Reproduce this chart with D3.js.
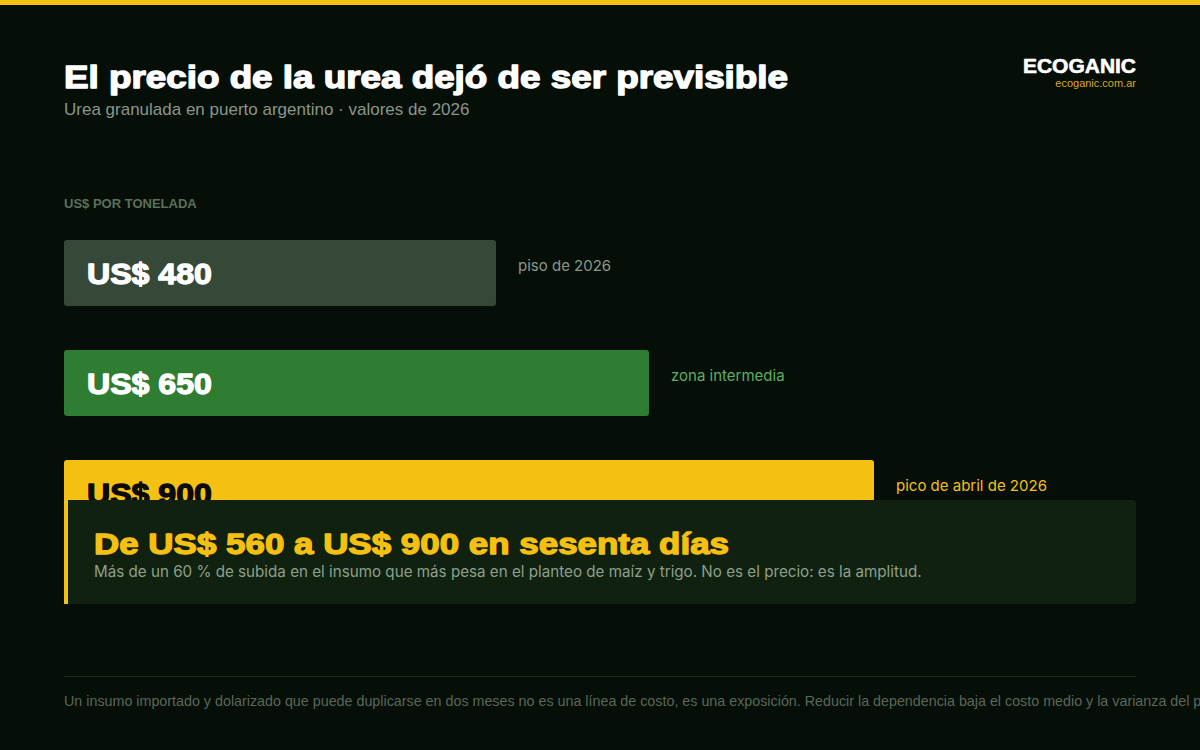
<!DOCTYPE html>
<html lang="es">
<head>
  <meta charset="UTF-8">
  <title>El precio de la urea dejó de ser previsible</title>
  <script src="https://d3js.org/d3.v7.min.js"></script>
  <style>
    body {
      margin: 0;
      padding: 0;
      background: #050f07;
      overflow: hidden;
    }
    .heavy {
      font-family: 'Liberation Sans', Arial, sans-serif;
      font-weight: 700;
      paint-order: stroke;
      stroke-linejoin: round;
    }
    .plain { font-family: 'Liberation Sans', Arial, sans-serif; }
    .inter { font-family: Inter, 'Noto Sans', sans-serif; }
  </style>
</head>
<body>
  <div id="chart"></div>

  <script>
    // valores en US$ por tonelada
    const categories = ['piso', 'intermedia', 'pico'];
    const values = [480, 650, 900];
    const valueLabels = ['US$ 480', 'US$ 650', 'US$ 900'];
    const sideLabels = ['piso de 2026', 'zona intermedia', 'pico de abril de 2026'];
    const barColors = ['#364837', '#2e7d32', '#f4c012'];
    const valueColors = ['#ffffff', '#ffffff', '#0a0a0a'];
    const sideColors = ['#8c978c', '#5fae62', '#f4c012'];

    const width = 1200;
    const height = 750;
    const left = 64;
    const right = 1136;

    const svg = d3.select('#chart')
      .append('svg')
      .attr('width', width)
      .attr('height', height);

    svg.append('rect')
      .attr('width', width).attr('height', height)
      .attr('fill', '#050f07');

    // franja superior
    svg.append('rect')
      .attr('width', width).attr('height', 5)
      .attr('fill', '#f4c012');

    // encabezado (la fuente negra se simula estirando la negrita)
    svg.append('text')
      .attr('class', 'heavy')
      .attr('x', left).attr('y', 88)
      .attr('font-size', 32)
      .attr('textLength', 724)
      .attr('lengthAdjust', 'spacingAndGlyphs')
      .attr('fill', '#ffffff')
      .attr('stroke', '#ffffff').attr('stroke-width', 1.4)
      .text('El precio de la urea dejó de ser previsible');

    svg.append('text')
      .attr('class', 'plain')
      .attr('x', left).attr('y', 115)
      .attr('font-size', 17)
      .attr('fill', '#8a968a')
      .text('Urea granulada en puerto argentino · valores de 2026');

    svg.append('text')
      .attr('class', 'heavy')
      .attr('x', right).attr('y', 73)
      .attr('text-anchor', 'end')
      .attr('font-size', 20)
      .attr('textLength', 113)
      .attr('lengthAdjust', 'spacingAndGlyphs')
      .attr('fill', '#ffffff')
      .attr('stroke', '#ffffff').attr('stroke-width', 0.6)
      .text('ECOGANIC');

    svg.append('text')
      .attr('class', 'plain')
      .attr('x', right).attr('y', 87)
      .attr('text-anchor', 'end')
      .attr('font-size', 11)
      .attr('fill', '#d9a919')
      .text('ecoganic.com.ar');

    svg.append('text')
      .attr('class', 'plain')
      .attr('x', left).attr('y', 208)
      .attr('font-size', 13)
      .attr('font-weight', 700)
      .attr('fill', '#5c6f5c')
      .text('US$ POR TONELADA');

    // escalas
    const x = d3.scaleLinear()
      .domain([0, 1200])
      .range([0, 1080]);

    const y = d3.scaleBand()
      .domain(categories)
      .range([240, 526])
      .paddingInner(0.4)
      .paddingOuter(0);

    const rows = categories.map((c, i) => ({
      cat: c, value: values[i], label: valueLabels[i], side: sideLabels[i],
      color: barColors[i], vcolor: valueColors[i], scolor: sideColors[i]
    }));

    const g = svg.append('g');

    g.selectAll('rect.bar')
      .data(rows)
      .join('rect')
      .attr('class', 'bar')
      .attr('x', left)
      .attr('y', d => y(d.cat))
      .attr('width', d => x(d.value))
      .attr('height', y.bandwidth())
      .attr('rx', 3)
      .attr('fill', d => d.color);

    g.selectAll('text.value')
      .data(rows)
      .join('text')
      .attr('class', 'value heavy')
      .attr('x', left + 23)
      .attr('y', d => y(d.cat) + y.bandwidth() / 2 + 11)
      .attr('font-size', 30)
      .attr('fill', d => d.vcolor)
      .attr('stroke', d => d.vcolor)
      .attr('stroke-width', 1.3)
      .text(d => d.label)
      .each(function () {
        const w = this.getComputedTextLength();
        d3.select(this)
          .attr('textLength', w * 1.07)
          .attr('lengthAdjust', 'spacingAndGlyphs');
      });

    g.selectAll('text.side')
      .data(rows)
      .join('text')
      .attr('class', 'side inter')
      .attr('x', d => left + x(d.value) + 22)
      .attr('y', d => y(d.cat) + 31)
      .attr('font-size', 15)
      .attr('fill', d => d.scolor)
      .text(d => d.side);

    // recuadro destacado
    const box = svg.append('g');
    box.append('rect')
      .attr('x', left).attr('y', 500)
      .attr('width', right - left).attr('height', 104)
      .attr('rx', 4)
      .attr('fill', '#10220f');
    box.append('rect')
      .attr('x', left).attr('y', 500)
      .attr('width', 4).attr('height', 104)
      .attr('fill', '#f4c012');

    box.append('text')
      .attr('class', 'heavy')
      .attr('x', 94).attr('y', 554)
      .attr('font-size', 30)
      .attr('textLength', 635)
      .attr('lengthAdjust', 'spacingAndGlyphs')
      .attr('fill', '#f4c012')
      .attr('stroke', '#f4c012').attr('stroke-width', 1.3)
      .text('De US$ 560 a US$ 900 en sesenta días');

    box.append('text')
      .attr('class', 'inter')
      .attr('x', 94).attr('y', 577)
      .attr('font-size', 15.2)
      .attr('fill', '#8d9f8d')
      .text('Más de un 60 % de subida en el insumo que más pesa en el planteo de maíz y trigo. No es el precio: es la amplitud.');

    // pie
    svg.append('line')
      .attr('x1', left).attr('x2', right)
      .attr('y1', 676.5).attr('y2', 676.5)
      .attr('stroke', '#1c2b1d');

    svg.append('text')
      .attr('class', 'plain')
      .attr('x', left).attr('y', 706)
      .attr('font-size', 14.3)
      .attr('fill', '#5a675a')
      .text('Un insumo importado y dolarizado que puede duplicarse en dos meses no es una línea de costo, es una exposición. Reducir la dependencia baja el costo medio y la varianza del planteo.');
  </script>
</body>
</html>
